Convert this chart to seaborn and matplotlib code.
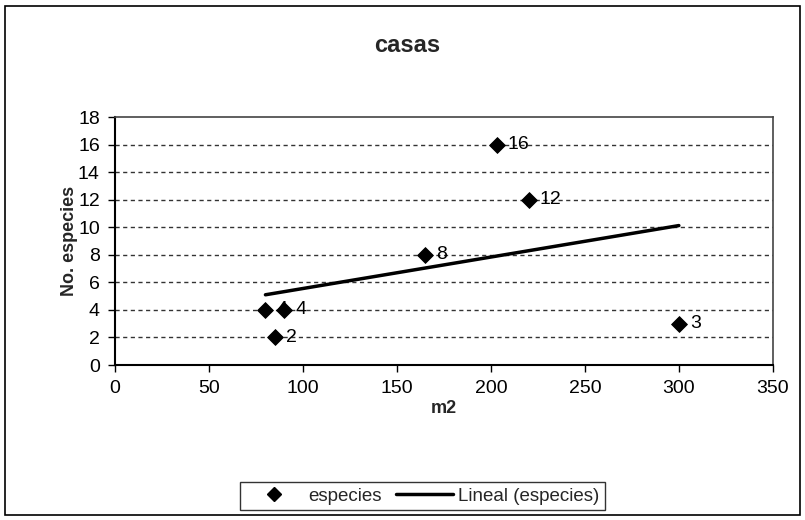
import matplotlib
matplotlib.use("Agg")
import matplotlib.pyplot as plt
import seaborn as sns
import pandas as pd
import numpy as np
from matplotlib.patches import Rectangle
from matplotlib.lines import Line2D

m2 = [80, 90, 85, 165, 203, 220, 300]
especies = [4, 4, 2, 8, 16, 12, 3]
x_ticks = [0, 50, 100, 150, 200, 250, 300, 350]
y_ticks = [0, 2, 4, 6, 8, 10, 12, 14, 16, 18]

sns.set_theme(style="white")
plt.rcParams['font.family'] = ['Liberation Sans', 'DejaVu Sans']

df = pd.DataFrame({"m2": m2, "especies": especies})

fig = plt.figure(figsize=(8.05, 5.2), dpi=100)
fig.patch.set_facecolor("white")
ax = fig.add_axes([0.143, 0.298, 0.817, 0.477])

ax.set_xlim(0, 350)
ax.set_ylim(0, 18)

for yv in y_ticks[1:-1]:
    ax.axhline(yv, color="#333333", lw=1.0, ls=(0, (3, 2.5)), zorder=0)

sns.regplot(data=df, x="m2", y="especies", scatter=False, ci=None, ax=ax,
            line_kws=dict(color="black", lw=2.5, zorder=2))
sns.scatterplot(data=df, x="m2", y="especies", marker="D", s=65, color="black",
                edgecolor="black", ax=ax, zorder=3, legend=False)

for xv, yv in zip(m2, especies):
    ax.annotate(str(yv), (xv, yv), xytext=(8, 0), textcoords="offset points",
                va="center", ha="left", fontsize=14, color="black", zorder=4)

ax.set_xticks(x_ticks)
ax.set_yticks(y_ticks)
ax.tick_params(axis="both", labelsize=14, direction="out", length=5, width=1,
               colors="black", left=True, bottom=True, pad=6)
ax.set_xlabel("m2", fontsize=13, fontweight="bold", labelpad=2)
ax.set_ylabel("No. especies", fontsize=13, fontweight="bold", labelpad=0)

for side in ["left", "bottom"]:
    ax.spines[side].set_color("black")
    ax.spines[side].set_linewidth(1.5)
for side in ["top", "right"]:
    ax.spines[side].set_color("#444444")
    ax.spines[side].set_linewidth(1.2)
    ax.spines[side].set_linestyle((0, (1, 1)))

fig.text(0.506, 0.913, "casas", ha="center", va="center", fontsize=17,
         fontweight="bold")

handles = [Line2D([], [], marker="D", color="black", ls="none", markersize=7),
           Line2D([], [], color="black", lw=2.5)]
leg = fig.legend(handles, ["especies", "Lineal (especies)"], loc="center",
                 bbox_to_anchor=(0.525, 0.046), ncol=2, fontsize=13.5,
                 frameon=True, fancybox=False, edgecolor="black",
                 handlelength=3.0, columnspacing=0.8, handletextpad=0.3,
                 borderpad=0.3, borderaxespad=0.2)
leg.get_frame().set_linewidth(1.0)

fig.patches.append(Rectangle((0.006, 0.01), 0.988, 0.978, transform=fig.transFigure,
                             fill=False, edgecolor="black", lw=1.2))

fig.savefig("out.png", dpi=100)
